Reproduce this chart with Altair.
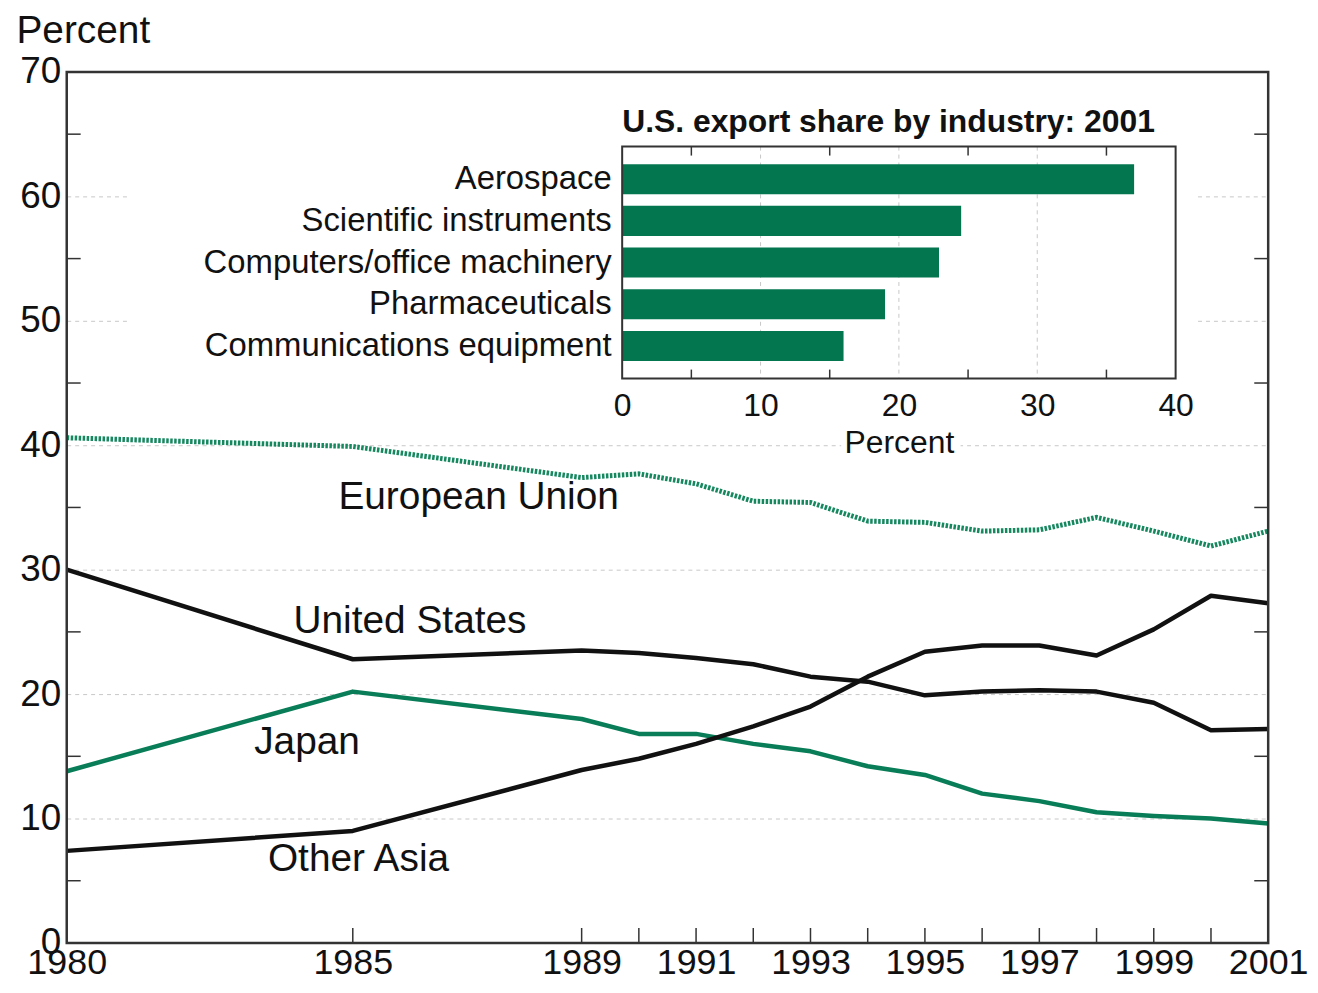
import altair as alt
import pandas as pd

# ---------------- data ----------------
years = [1980, 1985, 1989, 1990, 1991, 1992, 1993, 1994, 1995, 1996, 1997, 1998, 1999, 2000, 2001]
eu = [40.6, 39.9, 37.4, 37.7, 36.9, 35.5, 35.4, 33.9, 33.8, 33.1, 33.2, 34.2, 33.1, 31.9, 33.1]
us = [30.0, 22.8, 23.5, 23.3, 22.9, 22.4, 21.4, 21.0, 19.9, 20.2, 20.3, 20.2, 19.3, 17.1, 17.2]
japan = [13.8, 20.2, 18.0, 16.8, 16.8, 16.0, 15.4, 14.2, 13.5, 12.0, 11.4, 10.5, 10.2, 10.0, 9.6]
other_asia = [7.4, 9.0, 13.9, 14.8, 16.0, 17.4, 19.0, 21.4, 23.4, 23.9, 23.9, 23.1, 25.2, 27.9, 27.3]
solid_names = ["United States", "Japan", "Other Asia"]

x_label_years = [1980, 1985, 1989, 1991, 1993, 1995, 1997, 1999, 2001]
x_tick_years = [1985, 1989, 1990, 1991, 1992, 1993, 1994, 1995, 1996, 1997, 1998, 1999, 2000]
y_label_values = [0, 10, 20, 30, 40, 50, 60, 70]
y_minor_values = [5, 15, 25, 35, 45, 55, 65]

label_names = ["European Union", "United States", "Japan", "Other Asia"]
label_year = [1987.2, 1986.0, 1984.2, 1985.1]
label_value = [34.9, 24.9, 15.2, 5.8]

industries = ["Aerospace", "Scientific instruments", "Computers/office machinery",
              "Pharmaceuticals", "Communications equipment"]
industry_share = [37.0, 24.5, 22.9, 19.0, 16.0]
inset_title = "U.S. export share by industry: 2001"
inset_x_labels = [0, 10, 20, 30, 40]
inset_grid = [10, 20, 30]
inset_ticks = [5, 15, 25, 35]

# ---------------- styling ----------------
W, H = 1207, 875
FONT = "Liberation Sans"
GREEN = "#087d57"
EU_GREEN = "#15885f"
BAR_GREEN = "#03764f"
BLACK = "#111111"
FRAME = "#333333"
GRID = "#c8c8c8"
TICKLAB = 37
WORDS = 39
SMALL = 32
INSET_LAB = 33

# inset pixel geometry (plot-area coordinates)
IX0, IX1, IY0, IY1 = 558, 1114, 75, 308

one = pd.DataFrame({"a": [0]})

rows = []
for name, vals in zip(solid_names, [us, japan, other_asia]):
    for yr, v in zip(years, vals):
        rows.append({"year": yr, "value": v, "series": name})
solid_df = pd.DataFrame(rows)
eu_df = pd.DataFrame({"year": years, "value": eu})


def xs():
    return alt.Scale(domain=[1980, 2001], nice=False, zero=False)


def ys():
    return alt.Scale(domain=[0, 70], nice=False, zero=True)


def ixs():
    return alt.Scale(domain=[0, 40], range=[IX0, IX1], nice=False)


lines = alt.Chart(solid_df).mark_line(strokeWidth=4.5, strokeJoin="round").encode(
    x=alt.X("year:Q", scale=xs(), axis=alt.Axis(
        orient="bottom", values=x_label_years, format="d", ticks=False, domain=False,
        grid=False, labelFontSize=36, labelPadding=3, labelFlush=False,
        labelOverlap=False, labelColor=BLACK, title=None)),
    y=alt.Y("value:Q", scale=ys(), axis=alt.Axis(
        orient="left", values=y_label_values, ticks=False, domain=False, grid=True,
        gridDash=[4, 4], gridColor=GRID, gridWidth=1,
        labelFontSize=TICKLAB, labelPadding=6, labelFlush=False, labelOverlap=False,
        labelColor=BLACK, title="Percent", titleAngle=0, titleAlign="left",
        titleBaseline="alphabetic", titleX=-51, titleY=-30, titleFontSize=WORDS,
        titleFontWeight="normal", titleColor=BLACK)),
    color=alt.Color("series:N", scale=alt.Scale(domain=solid_names,
                    range=[BLACK, GREEN, BLACK]), legend=None),
    detail="series:N",
)

eu_line = alt.Chart(eu_df).mark_line(strokeWidth=5, strokeDash=[2.5, 1.5], color=EU_GREEN).encode(
    x=alt.X("year:Q", scale=xs(), axis=None),
    y=alt.Y("value:Q", scale=ys(), axis=None),
)

xt_df = pd.DataFrame({"year": x_tick_years})
x_ticks = alt.Chart(xt_df).mark_rule(color=FRAME, strokeWidth=1.5).encode(
    x=alt.X("year:Q", scale=xs(), axis=None), y=alt.value(H), y2=alt.value(H - 15))

ym_df = pd.DataFrame({"v": y_minor_values})
y_ticks_l = alt.Chart(ym_df).mark_rule(color=FRAME, strokeWidth=1.5).encode(
    y=alt.Y("v:Q", scale=ys(), axis=None), x=alt.value(0), x2=alt.value(14))
y_ticks_r = alt.Chart(ym_df).mark_rule(color=FRAME, strokeWidth=1.5).encode(
    y=alt.Y("v:Q", scale=ys(), axis=None), x=alt.value(W - 14), x2=alt.value(W))

frame = alt.Chart(one).mark_rect(fillOpacity=0, stroke=FRAME, strokeWidth=2.5).encode(
    x=alt.value(0), x2=alt.value(W), y=alt.value(0), y2=alt.value(H))

lab_df = pd.DataFrame({"name": label_names, "year": label_year, "value": label_value})
labels = alt.Chart(lab_df).mark_text(fontSize=WORDS, align="center", baseline="alphabetic",
                                     color=BLACK, font=FONT).encode(
    x=alt.X("year:Q", scale=xs(), axis=None),
    y=alt.Y("value:Q", scale=ys(), axis=None),
    text="name:N")

# ---------------- inset ----------------
iys = alt.Scale(domain=industries, range=[IY0, IY1], paddingInner=0.28, paddingOuter=0.42)

bg = alt.Chart(one).mark_rect(fill="white", strokeOpacity=0).encode(
    x=alt.value(63), x2=alt.value(1133), y=alt.value(25), y2=alt.value(360))
bg2 = alt.Chart(one).mark_rect(fill="white", strokeOpacity=0).encode(
    x=alt.value(778), x2=alt.value(898), y=alt.value(358), y2=alt.value(391))

ig_df = pd.DataFrame({"g": inset_grid})
i_grid = alt.Chart(ig_df).mark_rule(color=GRID, strokeDash=[4, 4], strokeWidth=1).encode(
    x=alt.X("g:Q", scale=ixs(), axis=None), y=alt.value(IY0), y2=alt.value(IY1))

bar_df = pd.DataFrame({"industry": industries, "share": industry_share})
bars = alt.Chart(bar_df).mark_bar(color=BAR_GREEN).encode(
    x=alt.X("share:Q", scale=ixs(), axis=alt.Axis(
        orient="bottom", offset=IY1 - H, values=inset_x_labels, ticks=False, domain=False,
        grid=False, labelFontSize=SMALL, labelPadding=12, labelFlush=False,
        labelOverlap=False, labelColor=BLACK, title="Percent", titleFontSize=SMALL,
        titleFontWeight="normal", titleColor=BLACK, titlePadding=6, zindex=1)),
    y=alt.Y("industry:N", scale=iys, sort=industries, axis=alt.Axis(
        orient="left", offset=-IX0, ticks=False, domain=False, grid=False,
        labelFontSize=INSET_LAB, labelPadding=11, labelColor=BLACK, labelLimit=600,
        title=None, zindex=1)),
)

it_df = pd.DataFrame({"t": inset_ticks})
i_ticks_top = alt.Chart(it_df).mark_rule(color=FRAME, strokeWidth=1.5).encode(
    x=alt.X("t:Q", scale=ixs(), axis=None), y=alt.value(IY0), y2=alt.value(IY0 + 9))
i_ticks_bot = alt.Chart(it_df).mark_rule(color=FRAME, strokeWidth=1.5).encode(
    x=alt.X("t:Q", scale=ixs(), axis=None), y=alt.value(IY1 - 9), y2=alt.value(IY1))

i_frame = alt.Chart(one).mark_rect(fillOpacity=0, stroke=FRAME, strokeWidth=2).encode(
    x=alt.value(IX0), x2=alt.value(IX1), y=alt.value(IY0), y2=alt.value(IY1))

i_title = alt.Chart(one).mark_text(fontSize=SMALL, fontWeight="bold", align="left",
                                   baseline="alphabetic", color=BLACK, font=FONT).encode(
    x=alt.value(IX0), y=alt.value(60), text=alt.value(inset_title))

chart = alt.layer(
    lines, eu_line, x_ticks, y_ticks_l, y_ticks_r, frame, labels,
    bg, bg2, i_grid, bars, i_ticks_top, i_ticks_bot, i_frame, i_title,
).resolve_scale(
    x="independent", y="independent", color="independent"
).properties(
    width=W, height=H,
    padding={"left": 59, "top": 62, "right": 42, "bottom": 40},
    autosize=alt.AutoSizeParams(type="none"),
).configure(font=FONT).configure_view(stroke=None)

chart.save("out.html", embed_options={"renderer": "svg", "actions": False})
